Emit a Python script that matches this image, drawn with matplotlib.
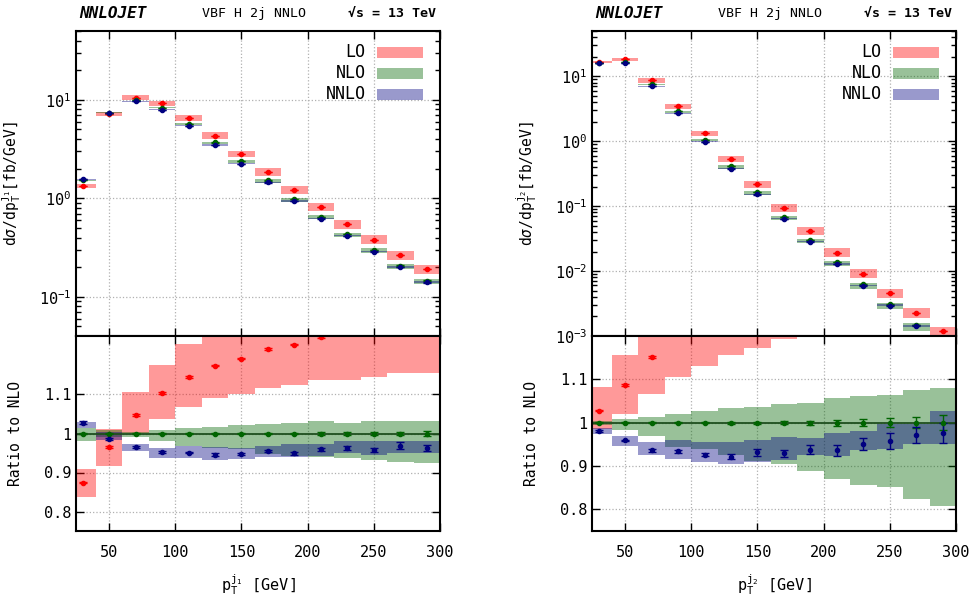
import numpy as np
import matplotlib
matplotlib.use("Agg")
import matplotlib.pyplot as plt
from matplotlib.patches import Rectangle
from matplotlib.ticker import FixedLocator, LogLocator, NullFormatter

plt.rcParams['font.family'] = 'DejaVu Sans Mono'
plt.rcParams['mathtext.fontset'] = 'custom'
plt.rcParams['mathtext.rm'] = 'DejaVu Sans Mono'
plt.rcParams['mathtext.it'] = 'DejaVu Sans Mono:italic'
plt.rcParams['mathtext.bf'] = 'DejaVu Sans Mono:bold'
plt.rcParams['font.size'] = 11

########## data ######################################
bin_lo = [20, 40, 60, 80, 100, 120, 140, 160, 180, 200, 220, 240, 260, 280]
bin_hi = [40, 60, 80, 100, 120, 140, 160, 180, 200, 220, 240, 260, 280, 300]
x_ticks = [50, 100, 150, 200, 250, 300]
ratio_ticks = [0.8, 0.9, 1.0, 1.1]
ratio_labels = ['0.8', '0.9', '1', '1.1']

# leading jet pT  (NLO absolute in fb/GeV, everything else relative to NLO)
nlo_j1 = [1.52, 7.40, 10.0, 8.35, 5.74, 3.69, 2.37, 1.52, 0.983, 0.650, 0.433, 0.300, 0.207, 0.146]
nlo_j1_lo = [0.980, 0.990, 0.990, 0.980, 0.969, 0.962, 0.960, 0.948, 0.942, 0.939, 0.937, 0.932, 0.926, 0.924]
nlo_j1_hi = [1.015, 1.008, 1.005, 1.008, 1.014, 1.017, 1.022, 1.025, 1.028, 1.031, 1.028, 1.033, 1.033, 1.033]
nlo_j1_err = [0.001, 0.001, 0.001, 0.001, 0.001, 0.001, 0.001, 0.002, 0.002, 0.003, 0.003, 0.004, 0.005, 0.006]
lo_j1 = [0.874, 0.966, 1.047, 1.104, 1.145, 1.174, 1.192, 1.216, 1.228, 1.247, 1.27, 1.27, 1.28, 1.30]
lo_j1_lo = [0.836, 0.917, 1.001, 1.038, 1.068, 1.090, 1.102, 1.117, 1.125, 1.138, 1.138, 1.145, 1.154, 1.154]
lo_j1_hi = [0.909, 1.011, 1.107, 1.176, 1.230, 1.27, 1.28, 1.35, 1.36, 1.38, 1.40, 1.42, 1.42, 1.44]
lo_j1_err = [0.002, 0.002, 0.002, 0.002, 0.002, 0.002, 0.002, 0.002, 0.002, 0.002, 0.002, 0.002, 0.002, 0.002]
nnlo_j1 = [1.028, 0.986, 0.966, 0.953, 0.951, 0.946, 0.947, 0.955, 0.949, 0.959, 0.962, 0.958, 0.969, 0.963]
nnlo_j1_lo = [1.015, 0.984, 0.955, 0.938, 0.936, 0.931, 0.934, 0.939, 0.940, 0.942, 0.950, 0.944, 0.950, 0.950]
nnlo_j1_hi = [1.030, 1.004, 0.974, 0.962, 0.967, 0.966, 0.962, 0.969, 0.972, 0.974, 0.980, 0.980, 0.982, 0.982]
nnlo_j1_err = [0.003, 0.003, 0.002, 0.002, 0.002, 0.003, 0.003, 0.003, 0.003, 0.004, 0.005, 0.006, 0.008, 0.007]

# second jet pT
nlo_j2 = [16.2, 16.8, 7.53, 2.88, 1.06, 0.411, 0.163, 0.0685, 0.0303, 0.01368, 0.00625, 0.00307, 0.00147, 0.00072]
nlo_j2_lo = [0.995, 0.984, 0.969, 0.945, 0.940, 0.926, 0.911, 0.905, 0.888, 0.871, 0.857, 0.851, 0.825, 0.808]
nlo_j2_hi = [1.005, 1.0085, 1.014, 1.021, 1.028, 1.035, 1.037, 1.044, 1.046, 1.058, 1.062, 1.064, 1.076, 1.081]
nlo_j2_err = [0.001, 0.001, 0.001, 0.001, 0.001, 0.002, 0.002, 0.004, 0.005, 0.007, 0.008, 0.010, 0.012, 0.017]
lo_j2 = [1.028, 1.087, 1.151, 1.22, 1.25, 1.30, 1.35, 1.36, 1.38, 1.41, 1.46, 1.48, 1.55, 1.64]
lo_j2_lo = [0.985, 1.021, 1.067, 1.105, 1.13, 1.155, 1.172, 1.192, 1.198, 1.22, 1.27, 1.26, 1.31, 1.39]
lo_j2_hi = [1.082, 1.157, 1.24, 1.32, 1.38, 1.46, 1.52, 1.59, 1.59, 1.64, 1.72, 1.72, 1.83, 1.92]
lo_j2_err = [0.002, 0.002, 0.002, 0.002, 0.002, 0.002, 0.002, 0.002, 0.002, 0.002, 0.002, 0.002, 0.002, 0.002]
nnlo_j2 = [0.981, 0.959, 0.936, 0.934, 0.926, 0.921, 0.932, 0.929, 0.938, 0.936, 0.951, 0.958, 0.971, 0.976]
nnlo_j2_lo = [0.975, 0.946, 0.925, 0.916, 0.909, 0.904, 0.910, 0.913, 0.926, 0.922, 0.937, 0.940, 0.951, 0.951]
nnlo_j2_hi = [0.987, 0.970, 0.955, 0.959, 0.955, 0.955, 0.961, 0.967, 0.965, 0.977, 0.980, 0.996, 0.996, 1.026]
nnlo_j2_err = [0.002, 0.002, 0.003, 0.003, 0.004, 0.006, 0.008, 0.009, 0.010, 0.012, 0.014, 0.018, 0.018, 0.024]
######################################################

LO_COL = 'red'
NLO_COL = 'darkgreen'
NNLO_COL = 'navy'
FIG_W, FIG_H = 971, 603


def style_axis(ax):
    ax.set_xlim(25, 300)
    ax.xaxis.set_major_locator(FixedLocator(x_ticks))
    ax.tick_params(which='both', direction='in', top=True, right=True, width=1)
    ax.tick_params(which='major', length=6)
    ax.tick_params(which='minor', length=3.5)
    ax.grid(True, which='major', linestyle=':', color='#b0b0b0', linewidth=0.9)
    ax.set_axisbelow(True)
    for sp in ax.spines.values():
        sp.set_linewidth(1.5)


def draw_panel(left_px, nlo, orders, ylim_top, ratio_top, label_sub):
    edges_lo = np.array(bin_lo)
    widths = np.array(bin_hi) - edges_lo
    centers = edges_lo + widths / 2.0
    nlo = np.array(nlo)

    fig = plt.gcf()
    ax_top = fig.add_axes([left_px / FIG_W, (FIG_H - 336) / FIG_H, 364 / FIG_W, 305 / FIG_H])
    ax_rat = fig.add_axes([left_px / FIG_W, (FIG_H - 531) / FIG_H, 364 / FIG_W, 195 / FIG_H])

    # bands first
    for name, col, cen, lo, hi, err in orders:
        lo = np.array(lo)
        hi = np.array(hi)
        ax_top.bar(edges_lo, (hi - lo) * nlo, bottom=lo * nlo, width=widths, align='edge',
                   color=col, alpha=0.4, linewidth=0)
        ax_rat.bar(edges_lo, hi - lo, bottom=lo, width=widths, align='edge',
                   color=col, alpha=0.4, linewidth=0)
    # NLO central line in ratio
    ax_rat.hlines(nlo / nlo, edges_lo, edges_lo + widths, color='#1f4f1f', linewidth=1.3)
    # points
    for name, col, cen, lo, hi, err in orders:
        cen = np.array(cen)
        err = np.array(err)
        ax_top.errorbar(centers, cen * nlo, yerr=err * nlo, fmt='o', ms=3, color=col,
                        capsize=3, elinewidth=1, capthick=1)
        ax_rat.errorbar(centers, cen, yerr=err, fmt='o', ms=3, color=col,
                        capsize=3, elinewidth=1, capthick=1)

    style_axis(ax_top)
    ax_top.set_yscale('log')
    ax_top.set_ylim(*ylim_top)
    ax_top.yaxis.set_minor_locator(LogLocator(base=10, subs=np.arange(2, 10)))
    ax_top.yaxis.set_minor_formatter(NullFormatter())
    ax_top.tick_params(axis='x', labelbottom=False)
    ax_top.tick_params(labelsize=11)
    ax_top.set_ylabel(r'd$\sigma$/dp$_{\mathrm{T}}^{\mathrm{j}_{' + label_sub + r'}}$[fb/GeV]', fontsize=10.5)
    ax_top.yaxis.set_label_coords(-0.145, 0.5)

    style_axis(ax_rat)
    ax_rat.set_ylim(0.75, ratio_top)
    ax_rat.yaxis.set_major_locator(FixedLocator(ratio_ticks))
    ax_rat.set_yticklabels(ratio_labels)
    ax_rat.tick_params(labelsize=11)
    ax_rat.tick_params(axis='x', pad=10)
    ax_rat.set_ylabel('Ratio to NLO', fontsize=10.5)
    ax_rat.yaxis.set_label_coords(-0.145, 0.5)
    ax_rat.set_xlabel(r'p$_{\mathrm{T}}^{\mathrm{j}_{' + label_sub + r'}}$ [GeV]', fontsize=11, labelpad=9)

    # legend drawn by hand, text right-aligned and boxes on the right
    for k, (name, col, cen, lo, hi, err) in enumerate(orders):
        yy = 0.931 - k * 0.069
        ax_top.text(0.796, yy, name, transform=ax_top.transAxes, ha='right', va='center', fontsize=12)
        ax_top.add_patch(Rectangle((0.828, yy - 0.018), 0.125, 0.036, transform=ax_top.transAxes,
                                   facecolor=col, alpha=0.4, linewidth=0))

    # header
    fig.text((left_px + 3) / FIG_W, 1 - 13 / FIG_H, 'NNLOJET', fontsize=11.5, fontweight='bold',
             fontstyle='italic', ha='left', va='center')
    fig.text((left_px + 178) / FIG_W, 1 - 13 / FIG_H, 'VBF H 2j NNLO', fontsize=9.5,
             ha='center', va='center')
    fig.text((left_px + 360) / FIG_W, 1 - 13 / FIG_H, '√s = 13 TeV', fontsize=9.5,
             fontweight='bold', ha='right', va='center')
    return ax_top, ax_rat


fig = plt.figure(figsize=(9.71, 6.03), dpi=100)

orders_j1 = [('LO', LO_COL, lo_j1, lo_j1_lo, lo_j1_hi, lo_j1_err),
             ('NLO', NLO_COL, [1.0] * len(nlo_j1), nlo_j1_lo, nlo_j1_hi, nlo_j1_err),
             ('NNLO', NNLO_COL, nnlo_j1, nnlo_j1_lo, nnlo_j1_hi, nnlo_j1_err)]
orders_j2 = [('LO', LO_COL, lo_j2, lo_j2_lo, lo_j2_hi, lo_j2_err),
             ('NLO', NLO_COL, [1.0] * len(nlo_j2), nlo_j2_lo, nlo_j2_hi, nlo_j2_err),
             ('NNLO', NNLO_COL, nnlo_j2, nnlo_j2_lo, nnlo_j2_hi, nnlo_j2_err)]

draw_panel(76, nlo_j1, orders_j1, (0.04, 50), 1.25, '1')
draw_panel(592, nlo_j2, orders_j2, (1e-3, 50), 1.2, '2')

fig.savefig('out.png', dpi=100)
